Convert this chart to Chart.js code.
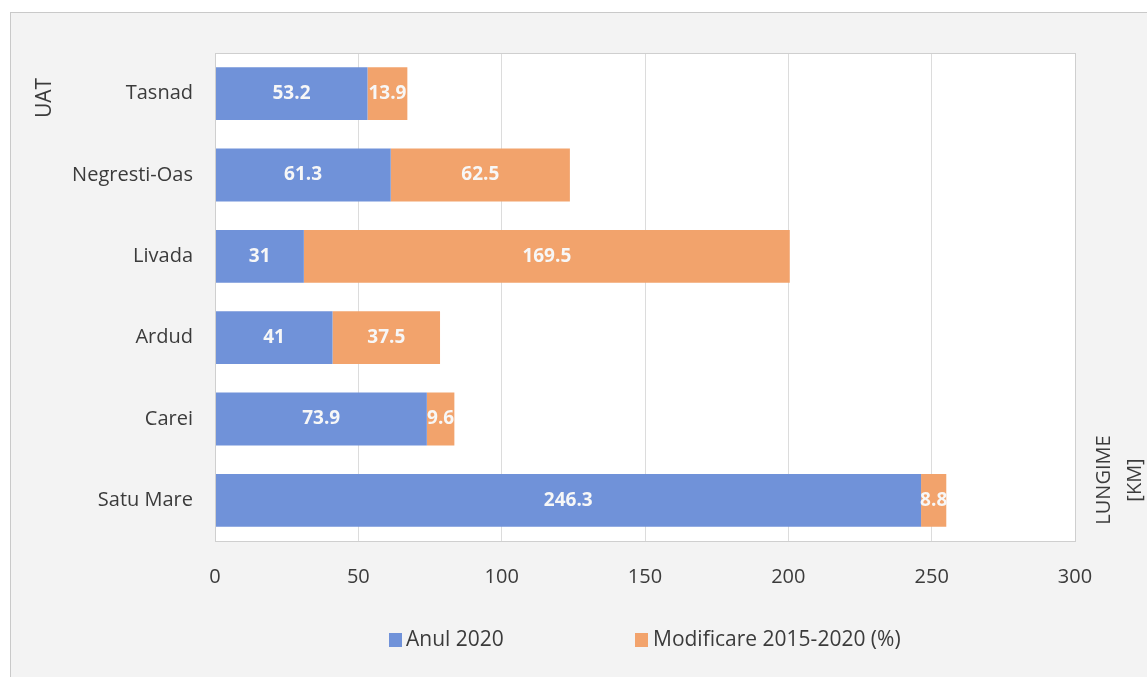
<!DOCTYPE html>
<html>
<head>
<meta charset="utf-8">
<script src="https://cdn.jsdelivr.net/npm/chart.js@4/dist/chart.umd.min.js"></script>
<style>
  html, body { margin: 0; padding: 0; background: #ffffff; }
  #wrap { position: relative; width: 1147px; height: 677px; }
</style>
</head>
<body>
<div id="wrap"><canvas id="chart" width="1147" height="677"></canvas></div>
<script>
// chart data
var categories = ["Tasnad", "Negresti-Oas", "Livada", "Ardud", "Carei", "Satu Mare"];
var anul2020 = [53.2, 61.3, 31, 41, 73.9, 246.3];
var modificare = [13.9, 62.5, 169.5, 37.5, 9.6, 8.8];
var xTicks = [0, 50, 100, 150, 200, 250, 300];
var seriesNames = ["Anul 2020", "Modificare 2015-2020 (%)"];
var seriesColors = ["#7092d9", "#f2a36c"];

var FONT = "'Open Sans', 'DejaVu Sans', sans-serif";
var TEXT = "#3b3b3b";

// background frame, plot box, axis titles and legend
var framePlugin = {
    id: "frame",
    beforeDraw: function (chart) {
        var ctx = chart.ctx;
        var a = chart.chartArea;
        ctx.save();
        ctx.fillStyle = "#ffffff";
        ctx.fillRect(0, 0, chart.width, chart.height);
        ctx.fillStyle = "#f3f3f3";
        ctx.fillRect(10, 12, chart.width, chart.height);
        ctx.strokeStyle = "#c9c9c9";
        ctx.lineWidth = 1;
        ctx.strokeRect(10.5, 12.5, chart.width + 10, chart.height);
        ctx.fillStyle = "#ffffff";
        ctx.fillRect(a.left, a.top, a.right - a.left, a.bottom - a.top);
        ctx.restore();
    },
    afterDraw: function (chart) {
        var ctx = chart.ctx;
        var a = chart.chartArea;
        ctx.save();
        ctx.strokeStyle = "#cfcfcf";
        ctx.lineWidth = 1;
        ctx.strokeRect(a.left + 0.5, a.top + 0.5, a.right - a.left, a.bottom - a.top);

        // axis titles
        ctx.fillStyle = TEXT;
        ctx.font = "21px " + FONT;
        ctx.textAlign = "center";
        ctx.textBaseline = "middle";
        ctx.translate(45, 98);
        ctx.rotate(-Math.PI / 2);
        ctx.fillText("UAT", 0, 0);
        ctx.restore();

        ctx.save();
        ctx.fillStyle = TEXT;
        ctx.font = "20px " + FONT;
        ctx.textAlign = "center";
        ctx.textBaseline = "middle";
        ctx.translate(1104, 480);
        ctx.rotate(-Math.PI / 2);
        ctx.fillText("LUNGIME", 0, 0);
        ctx.fillText("[KM]", 0, 31);
        ctx.restore();

        // legend
        ctx.save();
        ctx.font = "21px " + FONT;
        ctx.textBaseline = "middle";
        ctx.textAlign = "left";
        var boxX = [389, 635];
        var textX = [406, 653];
        var legendY = 640;
        for (var i = 0; i < seriesNames.length; i++) {
            ctx.fillStyle = seriesColors[i];
            ctx.fillRect(boxX[i], legendY - 7, 13, 14);
            ctx.fillStyle = TEXT;
            ctx.fillText(seriesNames[i], textX[i], legendY);
        }
        ctx.restore();
    }
};

// white value labels in the middle of each bar
var labelPlugin = {
    id: "barLabels",
    afterDatasetsDraw: function (chart) {
        var ctx = chart.ctx;
        ctx.save();
        ctx.font = "bold 19px " + FONT;
        ctx.fillStyle = "#f7f7f7";
        ctx.textAlign = "center";
        ctx.textBaseline = "middle";
        chart.data.datasets.forEach(function (ds, di) {
            var meta = chart.getDatasetMeta(di);
            meta.data.forEach(function (bar, i) {
                var p = bar.getProps(["x", "y", "base"], true);
                var cx = (p.x + p.base) / 2;
                ctx.fillText(String(ds.data[i]), cx, p.y);
            });
        });
        ctx.restore();
    }
};

var ctx = document.getElementById("chart").getContext("2d");
var chart = new Chart(ctx, {
    type: "bar",
    data: {
        labels: categories,
        datasets: [{
            label: seriesNames[0],
            data: anul2020,
            backgroundColor: seriesColors[0],
            categoryPercentage: 1,
            barPercentage: 0.65
        }, {
            label: seriesNames[1],
            data: modificare,
            backgroundColor: seriesColors[1],
            categoryPercentage: 1,
            barPercentage: 0.65
        }]
    },
    options: {
        indexAxis: "y",
        responsive: false,
        animation: false,
        layout: {
            padding: { left: 10, right: 72, top: 53, bottom: 86 }
        },
        plugins: {
            legend: { display: false },
            tooltip: { enabled: false }
        },
        scales: {
            x: {
                stacked: true,
                min: 0,
                max: 300,
                afterBuildTicks: function (axis) {
                    axis.ticks = xTicks.map(function (v) { return { value: v }; });
                },
                afterFit: function (axis) { axis.height = 50; },
                grid: { color: "#dcdcdc", drawTicks: false },
                border: { display: false },
                ticks: {
                    padding: 24,
                    color: TEXT,
                    font: { family: FONT, size: 20 }
                }
            },
            y: {
                stacked: true,
                afterFit: function (axis) { axis.width = 205; },
                grid: { display: false, drawTicks: false },
                border: { color: "#cfcfcf" },
                ticks: {
                    padding: 22,
                    color: TEXT,
                    font: { family: FONT, size: 20 }
                }
            }
        }
    },
    plugins: [framePlugin, labelPlugin]
});
</script>
</body>
</html>
